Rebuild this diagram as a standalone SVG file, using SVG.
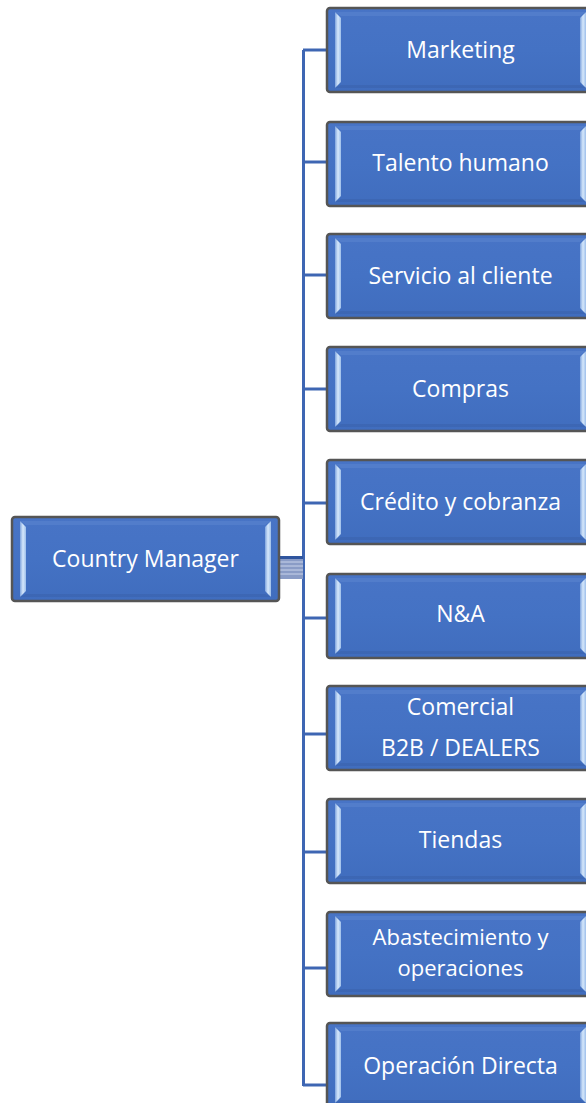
<svg xmlns="http://www.w3.org/2000/svg" width="586" height="1103" viewBox="0 0 586 1103">
<defs>
<linearGradient id="fill" x1="0" y1="0" x2="0" y2="1">
<stop offset="0" stop-color="#4874C6"/>
<stop offset="0.5" stop-color="#4472C4"/>
<stop offset="1" stop-color="#406DBE"/>
</linearGradient>
<linearGradient id="bev" x1="0" y1="0" x2="1" y2="0">
<stop offset="0" stop-color="#7FA4DE"/>
<stop offset="0.5" stop-color="#D6E8FB"/>
<stop offset="1" stop-color="#9DBEEA"/>
</linearGradient>
<g id="box">
<rect x="0" y="0" width="267" height="84" rx="3" fill="url(#fill)" stroke="#555" stroke-width="2.5"/>
<path d="M8,4 L14,10 L14,74 L8,80 Z" fill="url(#bev)"/>
<path d="M259,4 L253,10 L253,74 L259,80 Z" fill="url(#bev)"/>
<path d="M8,4 L259,4 L253,8 L14,8 Z" fill="#5A84CF" opacity="0.6"/>
<path d="M8,80 L259,80 L253,77 L14,77 Z" fill="#3A63AE" opacity="0.6"/>
</g>
</defs>
<style>
text{font-family:"Open Sans","Noto Sans","Liberation Sans",sans-serif;font-size:23px;fill:#FFFFFF;text-anchor:middle}
text.sm{font-size:22px}
.ln{stroke:#3E66B3;stroke-width:3;fill:none}
</style>
<g id="connectors">
<line class="ln" x1="303.5" y1="50" x2="303.5" y2="1086"/>
<line class="ln" x1="303" y1="50" x2="327" y2="50"/>
<line class="ln" x1="303" y1="162" x2="327" y2="162"/>
<line class="ln" x1="303" y1="275" x2="327" y2="275"/>
<line class="ln" x1="303" y1="389" x2="327" y2="389"/>
<line class="ln" x1="303" y1="503" x2="327" y2="503"/>
<line class="ln" x1="303" y1="618" x2="327" y2="618"/>
<line class="ln" x1="303" y1="734" x2="327" y2="734"/>
<line class="ln" x1="303" y1="852" x2="327" y2="852"/>
<line class="ln" x1="303" y1="968" x2="327" y2="968"/>
<line class="ln" x1="303" y1="1085" x2="327" y2="1085"/>
<rect x="279" y="556" width="24" height="23" fill="#8A9CC6"/>
<line x1="279" y1="557.5" x2="303" y2="557.5" stroke="#2F559E" stroke-width="3"/>
<line x1="279" y1="562" x2="303" y2="562" stroke="#C9D3EA" stroke-width="1"/>
<line x1="279" y1="566" x2="303" y2="566" stroke="#C9D3EA" stroke-width="1"/>
<line x1="279" y1="570" x2="303" y2="570" stroke="#C9D3EA" stroke-width="1"/>
<line x1="279" y1="574" x2="303" y2="574" stroke="#C9D3EA" stroke-width="1"/>
</g>
<g id="n-country"><use href="#box" x="12" y="517"/><text x="145.5" y="567">Country Manager</text></g>
<g id="n-marketing"><use href="#box" x="327" y="8"/><text x="460.5" y="58">Marketing</text></g>
<g id="n-talento"><use href="#box" x="327" y="122"/><text x="460.5" y="171">Talento humano</text></g>
<g id="n-servicio"><use href="#box" x="327" y="234"/><text x="460.5" y="284">Servicio al cliente</text></g>
<g id="n-compras"><use href="#box" x="327" y="347"/><text x="460.5" y="397">Compras</text></g>
<g id="n-credito"><use href="#box" x="327" y="460"/><text x="460.5" y="510">Crédito y cobranza</text></g>
<g id="n-na"><use href="#box" x="327" y="574"/><text x="460.5" y="622">N&amp;A</text></g>
<g id="n-comercial"><use href="#box" x="327" y="686"/><text x="460.5" y="715">Comercial</text><text x="460.5" y="756">B2B / DEALERS</text></g>
<g id="n-tiendas"><use href="#box" x="327" y="799"/><text x="460.5" y="848">Tiendas</text></g>
<g id="n-abast"><use href="#box" x="327" y="912"/><text class="sm" x="460.5" y="945">Abastecimiento y</text><text class="sm" x="460.5" y="976">operaciones</text></g>
<g id="n-operacion"><use href="#box" x="327" y="1023"/><text x="460.5" y="1074">Operación Directa</text></g>
</svg>
